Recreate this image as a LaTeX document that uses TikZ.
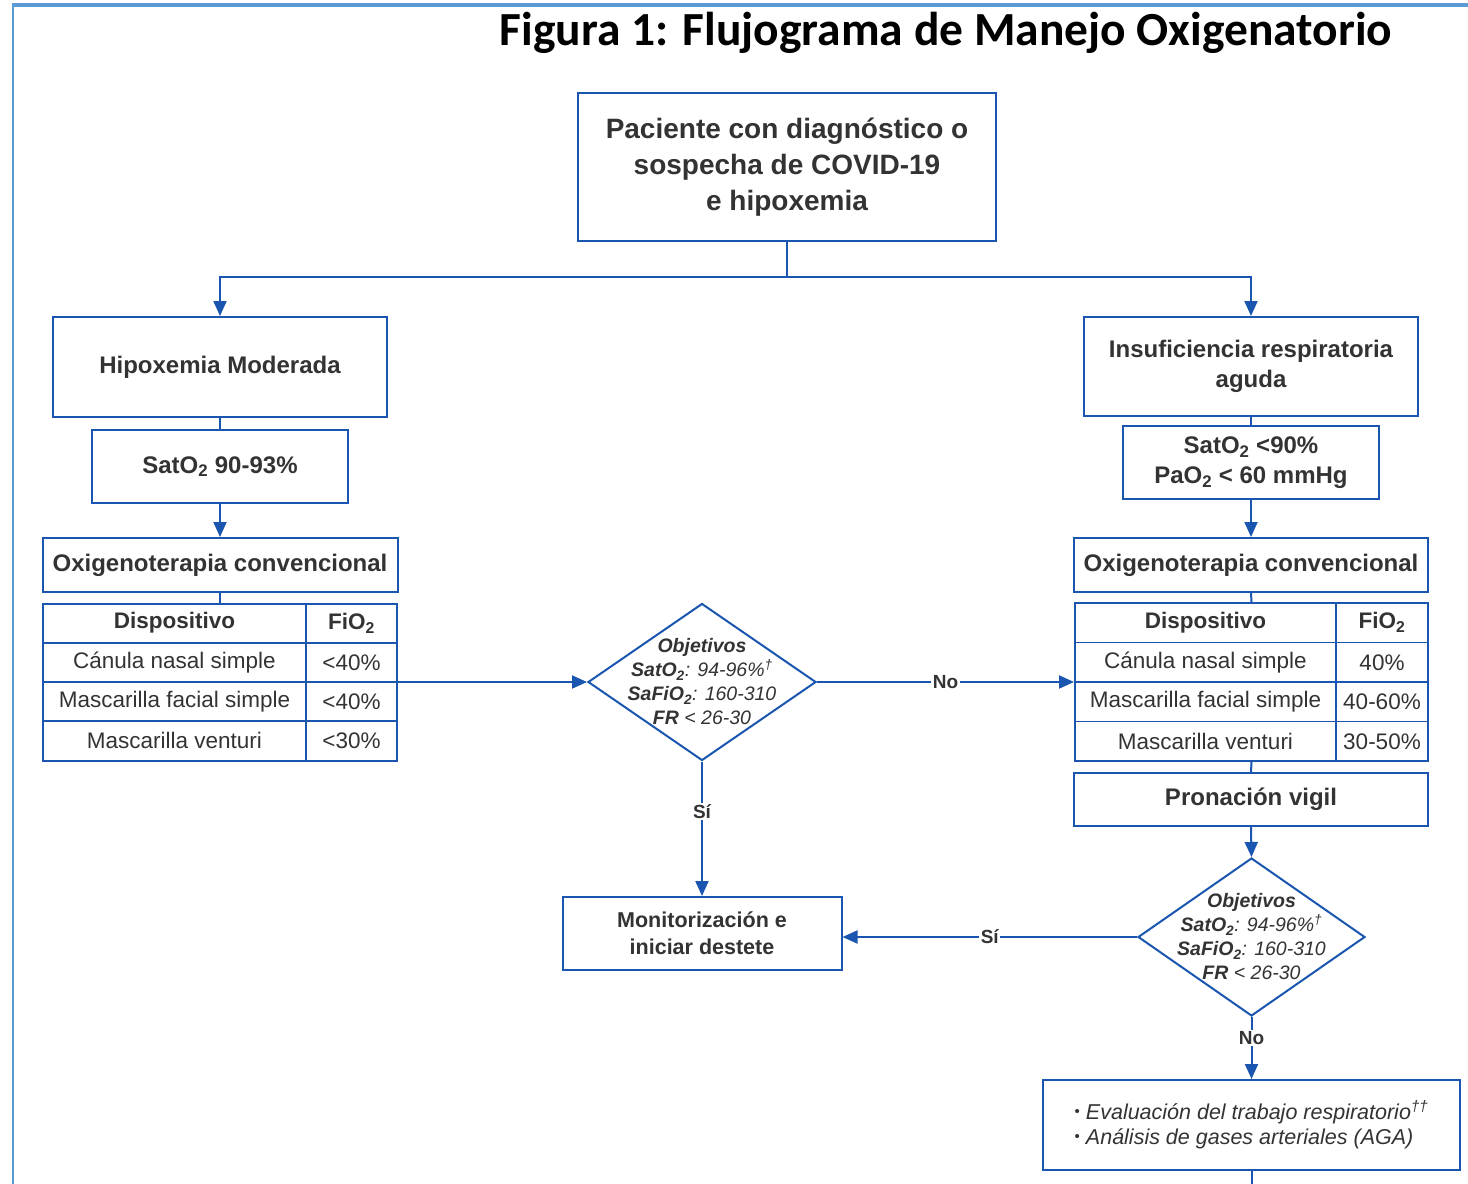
\documentclass[tikz,border=0pt]{standalone}
\usepackage{fontspec}
\setmainfont{Liberation Sans}
\newfontfamily\titlefont{Carlito}
\usetikzlibrary{arrows.meta,shapes.geometric}

\definecolor{flowblue}{HTML}{1A56B0}
\definecolor{inkgray}{HTML}{333333}
\definecolor{pageblue}{HTML}{5B9BD5}

\newcommand\fsz[2]{\fontsize{#1}{#2}\selectfont}
\newcommand\subtwo{\textsubscript{2}}
\newcommand\itembullet{\raisebox{0.12em}{\fsz{15}{15}\upshape •}}

\tikzset{
  box/.style={draw=flowblue, line width=2pt, fill=white, text=inkgray,
    font=\bfseries\fsz{24}{30}, align=center, inner sep=0pt},
  cell/.style={draw=flowblue, line width=1.8pt, text=inkgray,
    font=\fsz{22.5}{27}, inner sep=0pt},
  hcell/.style={cell, font=\bfseries\fsz{22.5}{27}},
  decision/.style={diamond, draw=flowblue, line width=2pt, fill=white, inner sep=0pt},
  conn/.style={draw=flowblue, line width=2pt},
  arr/.style={conn, -{Triangle[length=15pt,width=13pt]}},
  lbl/.style={fill=white, text=inkgray, font=\bfseries\fsz{19}{22}, inner sep=1.5pt},
  goaltext/.style={text=inkgray, font=\itshape\fsz{19.5}{24}, align=center, inner sep=0pt},
}

\begin{document}
\begin{tikzpicture}[x=1pt,y=-1pt]
\useasboundingbox (0,0) rectangle (1468,1184);

% page frame
\draw[pageblue, line width=3.5pt] (12,5) -- (1468,5);
\draw[pageblue, line width=2pt] (13,5) -- (13,1184);

% title
\node[font=\titlefont\bfseries\fsz{47.5}{50}, text=black] (title) at (946,33)
  {Figura 1: Flujograma de Manejo Oxigenatorio};

% start
\node[box, font=\bfseries\fsz{28}{36}, minimum width=418pt, minimum height=148pt] (start) at (787,167)
  {Paciente con diagnóstico o\\ sospecha de COVID-19\\ e hipoxemia};

% left branch
\node[box, minimum width=334pt, minimum height=100pt] (hipo) at (220,367) {Hipoxemia Moderada};
\node[box, minimum width=256pt, minimum height=73pt] (satL) at (220,466.5) {SatO\subtwo{} 90-93\%};
\node[box, minimum width=355pt, minimum height=54pt] (oxL) at (220,565) {Oxigenoterapia convencional};

\node[draw=flowblue, line width=2pt, minimum width=354pt, minimum height=157pt, inner sep=0pt] (tabL) at (220,682) {};
\node[hcell, minimum width=263pt, minimum height=39.25pt] (tL11) at (174.5,623.1) {Dispositivo};
\node[hcell, minimum width=91pt,  minimum height=39.25pt] (tL12) at (351.5,623.1) {FiO\subtwo};
\node[cell,  minimum width=263pt, minimum height=39.25pt] (tL21) at (174.5,662.4) {Cánula nasal simple};
\node[cell,  minimum width=91pt,  minimum height=39.25pt] (tL22) at (351.5,662.4) {<40\%};
\node[cell,  minimum width=263pt, minimum height=39.25pt] (tL31) at (174.5,701.6) {Mascarilla facial simple};
\node[cell,  minimum width=91pt,  minimum height=39.25pt] (tL32) at (351.5,701.6) {<40\%};
\node[cell,  minimum width=263pt, minimum height=39.25pt] (tL41) at (174.5,740.9) {Mascarilla venturi};
\node[cell,  minimum width=91pt,  minimum height=39.25pt] (tL42) at (351.5,740.9) {<30\%};

% right branch
\node[box, minimum width=334pt, minimum height=99pt] (insuf) at (1251,366.5) {Insuficiencia respiratoria\\ aguda};
\node[box, minimum width=256pt, minimum height=73pt] (satR) at (1251,462.5) {SatO\subtwo{} <90\%\\ PaO\subtwo{} < 60 mmHg};
\node[box, minimum width=354pt, minimum height=54pt] (oxR) at (1251,565) {Oxigenoterapia convencional};

\node[draw=flowblue, line width=2pt, minimum width=353pt, minimum height=158pt, inner sep=0pt] (tabR) at (1251.5,682) {};
\node[hcell, minimum width=261pt, minimum height=39.5pt] (tR11) at (1205.5,622.75) {Dispositivo};
\node[hcell, minimum width=92pt,  minimum height=39.5pt] (tR12) at (1382,622.75) {FiO\subtwo};
\node[cell,  minimum width=261pt, minimum height=39.5pt] (tR21) at (1205.5,662.25) {Cánula nasal simple};
\node[cell,  minimum width=92pt,  minimum height=39.5pt] (tR22) at (1382,662.25) {40\%};
\node[cell,  minimum width=261pt, minimum height=39.5pt] (tR31) at (1205.5,701.75) {Mascarilla facial simple};
\node[cell,  minimum width=92pt,  minimum height=39.5pt] (tR32) at (1382,701.75) {40-60\%};
\node[cell,  minimum width=261pt, minimum height=39.5pt] (tR41) at (1205.5,741.25) {Mascarilla venturi};
\node[cell,  minimum width=92pt,  minimum height=39.5pt] (tR42) at (1382,741.25) {30-50\%};

\node[box, minimum width=354pt, minimum height=53pt] (pron) at (1251,799.5) {Pronación vigil};

% decisions
\node[decision, minimum width=228pt, minimum height=157pt] (d1) at (702,682) {};
\node[goaltext] (g1) at (d1.center)
  {\bfseries Objetivos\\ \textbf{SatO\subtwo}: 94-96\%\textsuperscript{†}\\
   \textbf{SaFiO\subtwo}: 160-310\\ \textbf{FR} < 26-30};

\node[decision, minimum width=227pt, minimum height=158pt] (d2) at (1251.5,937) {};
\node[goaltext] (g2) at (d2.center)
  {\bfseries Objetivos\\ \textbf{SatO\subtwo}: 94-96\%\textsuperscript{†}\\
   \textbf{SaFiO\subtwo}: 160-310\\ \textbf{FR} < 26-30};

% outcomes
\node[box, font=\bfseries\fsz{21.5}{27}, minimum width=279pt, minimum height=73pt] (mon) at (702,933.5)
  {Monitorización e\\ iniciar destete};
\node[box, font=\itshape\fsz{21.5}{25}, align=left, minimum width=417pt, minimum height=90pt] (evalbox) at (1251.5,1125)
  {\itembullet{} Evaluación del trabajo respiratorio\textsuperscript{††}\\
   \itembullet{} Análisis de gases arteriales (AGA)};
\coordinate (tail) at (1251.5,1184);

% connectors
\draw[conn] (start.south) -- ++(0,35) coordinate (split);
\draw[arr] (split) -| (hipo.north);
\draw[arr] (split) -| (insuf.north);

\draw[conn] (hipo.south) -- (satL.north);
\draw[arr]  (satL.south) -- (oxL.north);
\draw[conn] (oxL.south) -- (tabL.north);

\draw[conn] (insuf.south) -- (satR.north);
\draw[arr]  (satR.south) -- (oxR.north);
\draw[conn] (oxR.south) -- (tabR.north);
\draw[conn] (tabR.south) -- (pron.north);
\draw[arr]  (pron.south) -- (d2.north);

\draw[arr] (tabL.east) -- (d1.west);
\draw[arr] (d1.east) -- node[lbl, pos=0.5] {No} (tabR.west);
\draw[arr] (d1.south) -- node[lbl, pos=0.37] {Sí} (mon.north);
\draw[arr] (d2.west) -- node[lbl, pos=0.5] {Sí} (d2.west -| mon.east);
\draw[arr] (d2.south) -- node[lbl, pos=0.34] {No} (evalbox.north);
\draw[conn] (evalbox.south) -- (tail);
\end{tikzpicture}
\end{document}
